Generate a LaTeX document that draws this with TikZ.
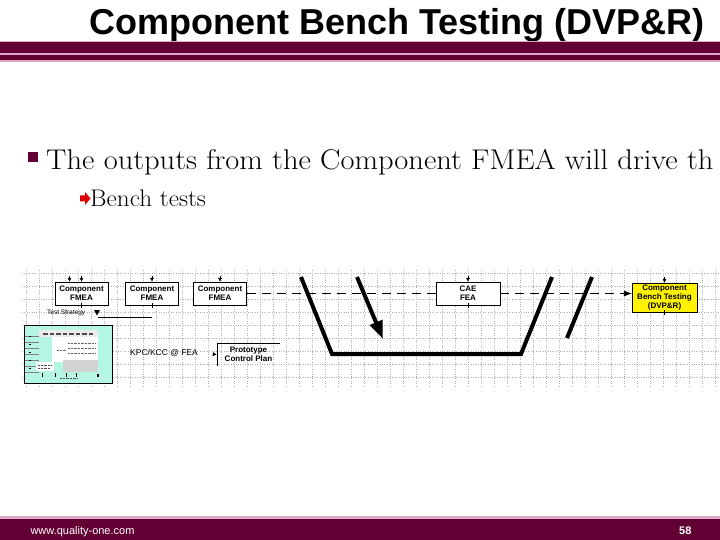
\documentclass[tikz,border=0pt]{standalone}
\usepackage{fontspec}
\newfontfamily\arialfont{Liberation Sans}
\usetikzlibrary{positioning,arrows.meta}

\definecolor{slidemaroon}{RGB}{99,0,51}
\definecolor{slidepink}{RGB}{220,170,200}
\definecolor{thumbaqua}{RGB}{180,245,228}
\definecolor{gridgrey}{RGB}{175,175,175}

\begin{document}
\begin{tikzpicture}[
    x=1pt, y=-1pt,
    box/.style={
        draw,
        thin,
        fill=white,
        minimum width=53pt,
        minimum height=23pt,
        inner sep=1pt,
        align=center,
        font=\arialfont\bfseries\fontsize{8}{8.6}\selectfont
    },
    flow/.style={
        thin,
        dash pattern=on 9pt off 6pt
    },
    vline/.style={
        line width=4pt
    },
    tick/.style={
        -{Latex[length=4pt,width=4pt]},
        thin
    }
]
\useasboundingbox (0,0) rectangle (720,540);

% title and bands
\node[anchor=base, font=\arialfont\bfseries\fontsize{36}{36}\selectfont] (title)
    at (397,35) {Component Bench Testing (DVP\&R)};
\fill[slidepink] (0,41) rectangle (720,62);
\fill[slidemaroon] (0,42) rectangle (720,53.5);
\fill[slidemaroon] (0,55) rectangle (720,60.5);

% footer
\fill[slidepink] (0,516) rectangle (720,540);
\fill[slidemaroon] (0,518.5) rectangle (720,540);
\node[anchor=base west, white, font=\arialfont\fontsize{11}{11}\selectfont] (url)
    at (27,534) {www.quality-one.com};
\node[anchor=base east, white, font=\arialfont\bfseries\fontsize{11}{11}\selectfont] (page)
    at (695,534) {58};

% bullets
\fill[slidemaroon] (28,152) rectangle (38,162);
\node[anchor=base west, inner sep=0pt, xscale=1.07, transform shape,
      font=\fontsize{28.5}{28.5}\selectfont] (outputs)
    at (46,170) {The outputs from the Component FMEA will drive th};
\fill[red!85!black] (80,195.5) -- (85,195.5) -- (85,192) -- (90.5,198.5)
    -- (85,205) -- (85,201.5) -- (80,201.5) -- cycle;
\node[anchor=base west, inner sep=0pt, xscale=1.05, transform shape,
      font=\fontsize{24}{24}\selectfont] (bench tests)
    at (90,207) {Bench tests};

% background grid of the chart
\draw[gridgrey, dotted, step=13pt] (22,270) grid (720,386);

% boxes
\node[box] (fmeaA) at (81.5,293.5) {Component\\FMEA};
\node[box] (fmeaB) at (152,293.5) {Component\\FMEA};
\node[box] (fmeaC) at (220,293.5) {Component\\FMEA};
\node[box, minimum width=64pt] (cae) at (468,293.5) {CAE\\FEA};
\node[box, fill=yellow, minimum width=65pt, minimum height=29pt] (bench)
    at (664.5,297.5) {Component\\Bench Testing\\(DVP\&R)};

\draw[tick] ([xshift=-12pt,yshift=6pt]fmeaA.north) -- ([xshift=-12pt]fmeaA.north);
\foreach \n in {fmeaA,fmeaB,fmeaC,cae,bench}
    \draw[tick] ([yshift=6pt]\n.north) -- (\n.north);
\foreach \n in {fmeaA,fmeaB,cae,bench}
    \draw ([yshift=2.5pt]\n.south) -- ([yshift=-2.5pt]\n.south);

% dashed flow
\draw[flow] (fmeaC) -- (cae);
\draw[flow, -{Latex[length=8pt,width=6pt]}] (cae.east) -- (cae.east -| bench.west);

% test strategy and its sheet
\node[anchor=west, inner sep=0pt, font=\arialfont\fontsize{6.5}{6.5}\selectfont] (strategy)
    at (47,313) {Test Strategy};
\fill (94,310) -- (100,310) -- (97,315.5) -- cycle;
\coordinate (stratEnd) at (152,317);
\draw (98,317) -- (stratEnd);

\draw[fill=thumbaqua] (24,325) rectangle (112,383);
\fill[white!85!gray] (39,330) rectangle (98,337);
\foreach \i in {0,...,7}
    \fill[black!70] (43+\i*6.5,332.5) rectangle (47.5+\i*6.5,334.5);
\fill[white] (52,337) rectangle (98,362);
\fill[gray!35] (63,360) rectangle (98,372);
\foreach \yy in {343,348,353}
    \draw[black!60, densely dotted] (68,\yy) -- (96,\yy);
\draw[black!60, densely dotted] (57,350) -- (66,350);
\foreach \yy in {336,342,348,354,360,366,372}
    \draw[black!50, very thin] (25,\yy) -- (39,\yy);
\foreach \yy in {336,344,352,360,368}
    \fill (29,\yy) rectangle (31,\yy+1.2);
\fill[white] (36,362) rectangle (54,371);
\draw[black!70, densely dotted] (38,365) -- (52,365);
\draw[black!70, densely dotted] (38,368) -- (50,368);
\foreach \xx in {42,55,66,76}
    \draw (\xx,373) -- (\xx,377);
\draw[black!70, densely dotted] (60,378) -- (78,378);
\fill (97,374) rectangle (99,377);

% prototype control plan
\node[font=\arialfont\fontsize{8.5}{8.5}\selectfont] (kpc) at (164,353) {KPC/KCC @ FEA};
\node[box, draw=none, fill=none, minimum width=63pt] (proto) at (248.5,354.5)
    {Prototype\\Control Plan};
\draw (proto.south west) |- (proto.north east);
\draw[tick, shorten <=13pt] (kpc.east) -- (proto.west);

% V-model stroke
\coordinate (vTopL) at (301,277);
\coordinate (vBotL) at (332,354);
\coordinate (vBotR) at (521,354);
\coordinate (vTopR) at (552,277);
\draw[vline] (vTopL) -- (vBotL) -- (vBotR) -- (vTopR);

\coordinate (downStart) at (357,277);
\coordinate (downEnd) at (383,339);
\draw[vline, -{Triangle[length=18pt,width=13pt]}] (downStart) -- (downEnd);

\coordinate (upStart) at (567,338);
\coordinate (upEnd) at (592,277);
\draw[vline] (upStart) -- (upEnd);

\end{tikzpicture}
\end{document}
